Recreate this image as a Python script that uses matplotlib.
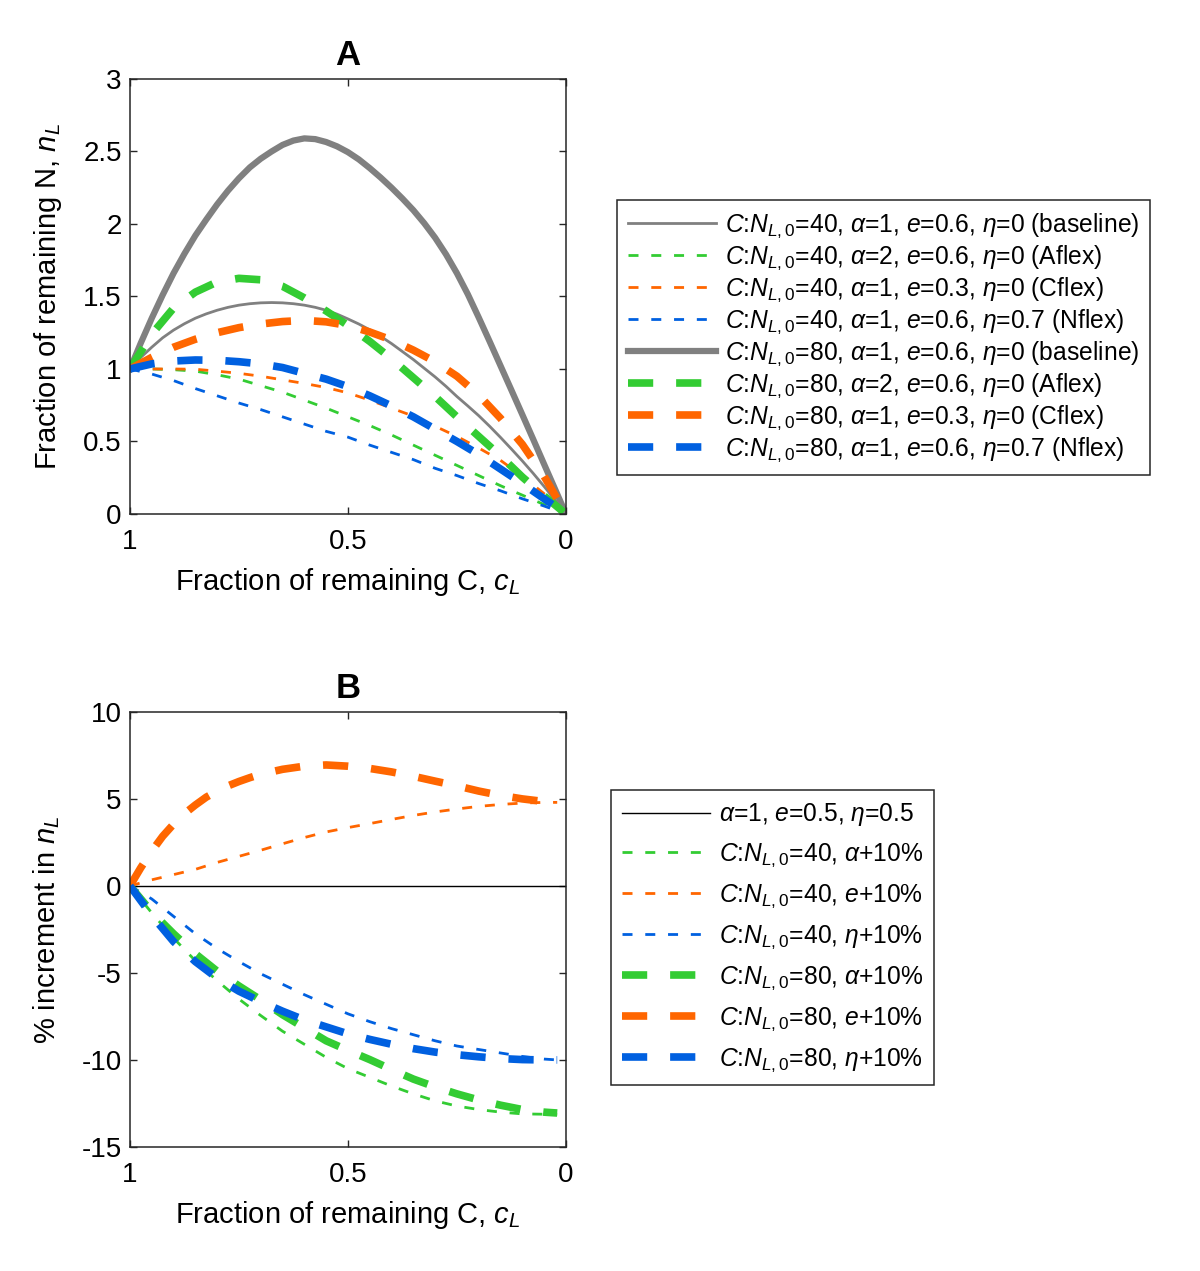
import matplotlib
matplotlib.use('Agg')
import matplotlib.pyplot as plt

plt.rcParams['font.family'] = ['Liberation Sans', 'DejaVu Sans']
plt.rcParams['mathtext.fontset'] = 'custom'
plt.rcParams['mathtext.rm'] = 'Liberation Sans'
plt.rcParams['mathtext.it'] = 'Liberation Sans:italic'
plt.rcParams['axes.unicode_minus'] = False

# fraction of remaining C (x axis, goes from 1 to 0)
cL = [1.0, 0.95, 0.9, 0.85, 0.8, 0.75, 0.7, 0.65, 0.6, 0.55, 0.5,
      0.45, 0.4, 0.35, 0.3, 0.25, 0.2, 0.15, 0.1, 0.05, 0.0]
# finer grid used for the two baseline curves
cL_fine = [1.0, 0.975, 0.95, 0.925, 0.9, 0.875, 0.85, 0.825, 0.8, 0.775, 0.75,
           0.725, 0.7, 0.675, 0.65, 0.625, 0.6, 0.575, 0.55, 0.525, 0.5,
           0.475, 0.45, 0.425, 0.4, 0.375, 0.35, 0.325, 0.3, 0.275, 0.25,
           0.225, 0.2, 0.175, 0.15, 0.125, 0.1, 0.075, 0.05, 0.025, 0.0]

# panel A : fraction of remaining N
base40 = [1.0, 1.08, 1.15, 1.215, 1.268, 1.312, 1.35, 1.38, 1.405, 1.425, 1.44,
          1.45, 1.456, 1.458, 1.456, 1.45, 1.44, 1.425, 1.405, 1.378, 1.345,
          1.31, 1.27, 1.225, 1.175, 1.12, 1.065, 1.005, 0.945, 0.88, 0.81,
          0.745, 0.678, 0.605, 0.528, 0.448, 0.366, 0.28, 0.19, 0.097, 0.0]
base80 = [1.0, 1.18, 1.35, 1.51, 1.66, 1.795, 1.92, 2.03, 2.135, 2.23, 2.315,
          2.39, 2.45, 2.50, 2.545, 2.575, 2.59, 2.585, 2.565, 2.535, 2.495,
          2.445, 2.385, 2.32, 2.25, 2.175, 2.095, 2.005, 1.905, 1.79, 1.66,
          1.515, 1.355, 1.19, 1.022, 0.854, 0.685, 0.515, 0.343, 0.172, 0.0]
aflex40 = [1.0, 1.0, 0.995, 0.985, 0.96, 0.93, 0.885, 0.84, 0.785, 0.73, 0.67,
           0.61, 0.545, 0.475, 0.405, 0.335, 0.265, 0.195, 0.13, 0.065, 0.0]
cflex40 = [1.0, 1.0, 1.0, 0.998, 0.985, 0.97, 0.95, 0.925, 0.9, 0.872, 0.835,
           0.785, 0.73, 0.675, 0.605, 0.535, 0.455, 0.37, 0.26, 0.14, 0.0]
nflex40 = [1.0, 0.965, 0.92, 0.865, 0.815, 0.765, 0.72, 0.67, 0.62, 0.57, 0.53,
           0.475, 0.425, 0.375, 0.315, 0.265, 0.21, 0.16, 0.105, 0.055, 0.0]
aflex80 = [1.0, 1.24, 1.42, 1.53, 1.6, 1.625, 1.615, 1.57, 1.49, 1.4, 1.3,
           1.19, 1.07, 0.94, 0.81, 0.67, 0.535, 0.4, 0.255, 0.125, 0.0]
cflex80 = [1.0, 1.08, 1.15, 1.205, 1.25, 1.285, 1.31, 1.327, 1.335, 1.325, 1.3,
           1.255, 1.2, 1.13, 1.05, 0.95, 0.82, 0.66, 0.48, 0.26, 0.0]
nflex80 = [1.0, 1.035, 1.055, 1.062, 1.06, 1.05, 1.035, 1.01, 0.97, 0.93, 0.878,
           0.815, 0.745, 0.67, 0.585, 0.5, 0.41, 0.31, 0.21, 0.105, 0.0]

# panel B : % increment in nL
cL_B = [1.0, 0.95, 0.9, 0.85, 0.8, 0.75, 0.7, 0.65, 0.6, 0.55, 0.5,
        0.45, 0.4, 0.35, 0.3, 0.25, 0.2, 0.15, 0.1, 0.05, 0.02]
cL_B80e = [1.0, 0.975, 0.95, 0.925, 0.9, 0.875, 0.85, 0.825, 0.8, 0.775, 0.75,
           0.725, 0.7, 0.65, 0.6, 0.55, 0.5, 0.45, 0.4, 0.35, 0.3, 0.25,
           0.2, 0.15, 0.1, 0.05, 0.02]
ref_x = [1.0, 0.0]
ref_y = [0.0, 0.0]
a40 = [0, -1.55, -3.0, -4.3, -5.45, -6.5, -7.45, -8.35, -9.1, -9.85, -10.5,
       -11.0, -11.5, -11.95, -12.35, -12.65, -12.85, -13.0, -13.1, -13.12, -13.12]
e40 = [0, 0.35, 0.65, 0.95, 1.35, 1.7, 2.05, 2.42, 2.78, 3.1, 3.35,
       3.58, 3.82, 4.05, 4.25, 4.42, 4.57, 4.68, 4.76, 4.8, 4.8]
h40 = [0, -0.75, -1.75, -2.75, -3.6, -4.35, -5.05, -5.65, -6.25, -6.8, -7.35,
       -7.8, -8.2, -8.55, -8.9, -9.2, -9.4, -9.6, -9.8, -9.95, -10.0]
a80 = [0, -1.5, -2.75, -3.9, -4.9, -5.75, -6.55, -7.4, -8.15, -8.9, -9.45,
       -9.98, -10.55, -11.1, -11.55, -11.95, -12.3, -12.6, -12.85, -13.0, -13.05]
e80 = [0, 1.05, 2.0, 2.85, 3.55, 4.15, 4.65, 5.1, 5.45, 5.75, 6.0,
       6.22, 6.42, 6.7, 6.88, 6.95, 6.88, 6.75, 6.55, 6.3, 6.02, 5.75,
       5.45, 5.2, 5.0, 4.85, 4.75]
h80 = [0, -1.7, -3.2, -4.35, -5.3, -6.05, -6.65, -7.2, -7.7, -8.1, -8.5,
       -8.82, -9.1, -9.35, -9.55, -9.7, -9.82, -9.92, -9.98, -10.0, -10.0]

gray = '#808080'
green = '#33cc33'
orange = '#ff6600'
blue = '#0060e0'

thin = dict(lw=2.0, dashes=(3.6, 4.6))
thick = dict(lw=5.5, dashes=(3.3, 3.0))

CN = r'$C$:$N_{L,\mathrm{0}}$'

fig = plt.figure(figsize=(12, 12.71), dpi=100)
axA = fig.add_axes([0.1083, 0.5956, 0.3633, 0.3423])
axB = fig.add_axes([0.1083, 0.0976, 0.3633, 0.3423])

#panel A
axA.plot(cL_fine, base40, color=gray, lw=2.0,
         label=CN + r'=40, $\alpha$=1, $e$=0.6, $\eta$=0 (baseline)')
axA.plot(cL, aflex40, color=green, **thin,
         label=CN + r'=40, $\alpha$=2, $e$=0.6, $\eta$=0 (Aflex)')
axA.plot(cL, cflex40, color=orange, **thin,
         label=CN + r'=40, $\alpha$=1, $e$=0.3, $\eta$=0 (Cflex)')
axA.plot(cL, nflex40, color=blue, **thin,
         label=CN + r'=40, $\alpha$=1, $e$=0.6, $\eta$=0.7 (Nflex)')
axA.plot(cL_fine, base80, color=gray, lw=4.5,
         label=CN + r'=80, $\alpha$=1, $e$=0.6, $\eta$=0 (baseline)')
axA.plot(cL, aflex80, color=green, **thick,
         label=CN + r'=80, $\alpha$=2, $e$=0.6, $\eta$=0 (Aflex)')
axA.plot(cL, cflex80, color=orange, **thick,
         label=CN + r'=80, $\alpha$=1, $e$=0.3, $\eta$=0 (Cflex)')
axA.plot(cL, nflex80, color=blue, **thick,
         label=CN + r'=80, $\alpha$=1, $e$=0.6, $\eta$=0.7 (Nflex)')
axA.set_ylim(0, 3)
axA.set_yticks([0, 0.5, 1, 1.5, 2, 2.5, 3])
axA.set_yticklabels(['0', '0.5', '1', '1.5', '2', '2.5', '3'])
axA.set_ylabel(r'Fraction of remaining N, $n_L$', fontsize=21, labelpad=14)
axA.set_title('A', fontsize=25, fontweight='bold', pad=10)

#panel B
axB.plot(ref_x, ref_y, color='black', lw=1.0,
         label=r'$\alpha$=1, $e$=0.5, $\eta$=0.5')
axB.plot(cL_B, a40, color=green, **thin, label=CN + r'=40, $\alpha$+10%')
axB.plot(cL_B, e40, color=orange, **thin, label=CN + r'=40, $e$+10%')
axB.plot(cL_B, h40, color=blue, **thin, label=CN + r'=40, $\eta$+10%')
axB.plot(cL_B, a80, color=green, **thick, label=CN + r'=80, $\alpha$+10%')
axB.plot(cL_B80e, e80, color=orange, **thick, label=CN + r'=80, $e$+10%')
axB.plot(cL_B, h80, color=blue, **thick, label=CN + r'=80, $\eta$+10%')
axB.set_ylim(-15, 10)
axB.set_yticks([-15, -10, -5, 0, 5, 10])
axB.set_ylabel(r'% increment in $n_L$', fontsize=21, labelpad=14)
axB.set_title('B', fontsize=25, fontweight='bold', pad=10)

for ax in [axA, axB]:
    ax.set_xlim(1, 0)
    ax.set_xticks([1, 0.5, 0])
    ax.set_xticklabels(['1', '0.5', '0'])
    ax.set_xlabel(r'Fraction of remaining C, $c_L$', fontsize=21, labelpad=8)
    ax.tick_params(direction='in', top=True, right=True, length=5, width=1,
                   labelsize=20, colors='#262626', labelcolor='black', pad=6)
    ax.tick_params(axis='x', pad=11)
    for s in ax.spines.values():
        s.set_color('#262626')
        s.set_linewidth(1.1)

legA = axA.legend(loc='upper left', bbox_to_anchor=(0.514, 0.8426),
                  bbox_transform=fig.transFigure, fontsize=17.7,
                  handlelength=3.6, handletextpad=0.35, fancybox=False,
                  edgecolor='#262626', framealpha=1, borderaxespad=0,
                  borderpad=0.45, labelspacing=0.15)
legA.get_frame().set_linewidth(1.1)
legB = axB.legend(loc='upper left', bbox_to_anchor=(0.509, 0.3784),
                  bbox_transform=fig.transFigure, fontsize=17.7,
                  handlelength=3.6, handletextpad=0.35, fancybox=False,
                  edgecolor='#262626', framealpha=1, borderaxespad=0,
                  borderpad=0.45, labelspacing=0.55)
legB.get_frame().set_linewidth(1.1)

plt.savefig('out.png', dpi=100)
